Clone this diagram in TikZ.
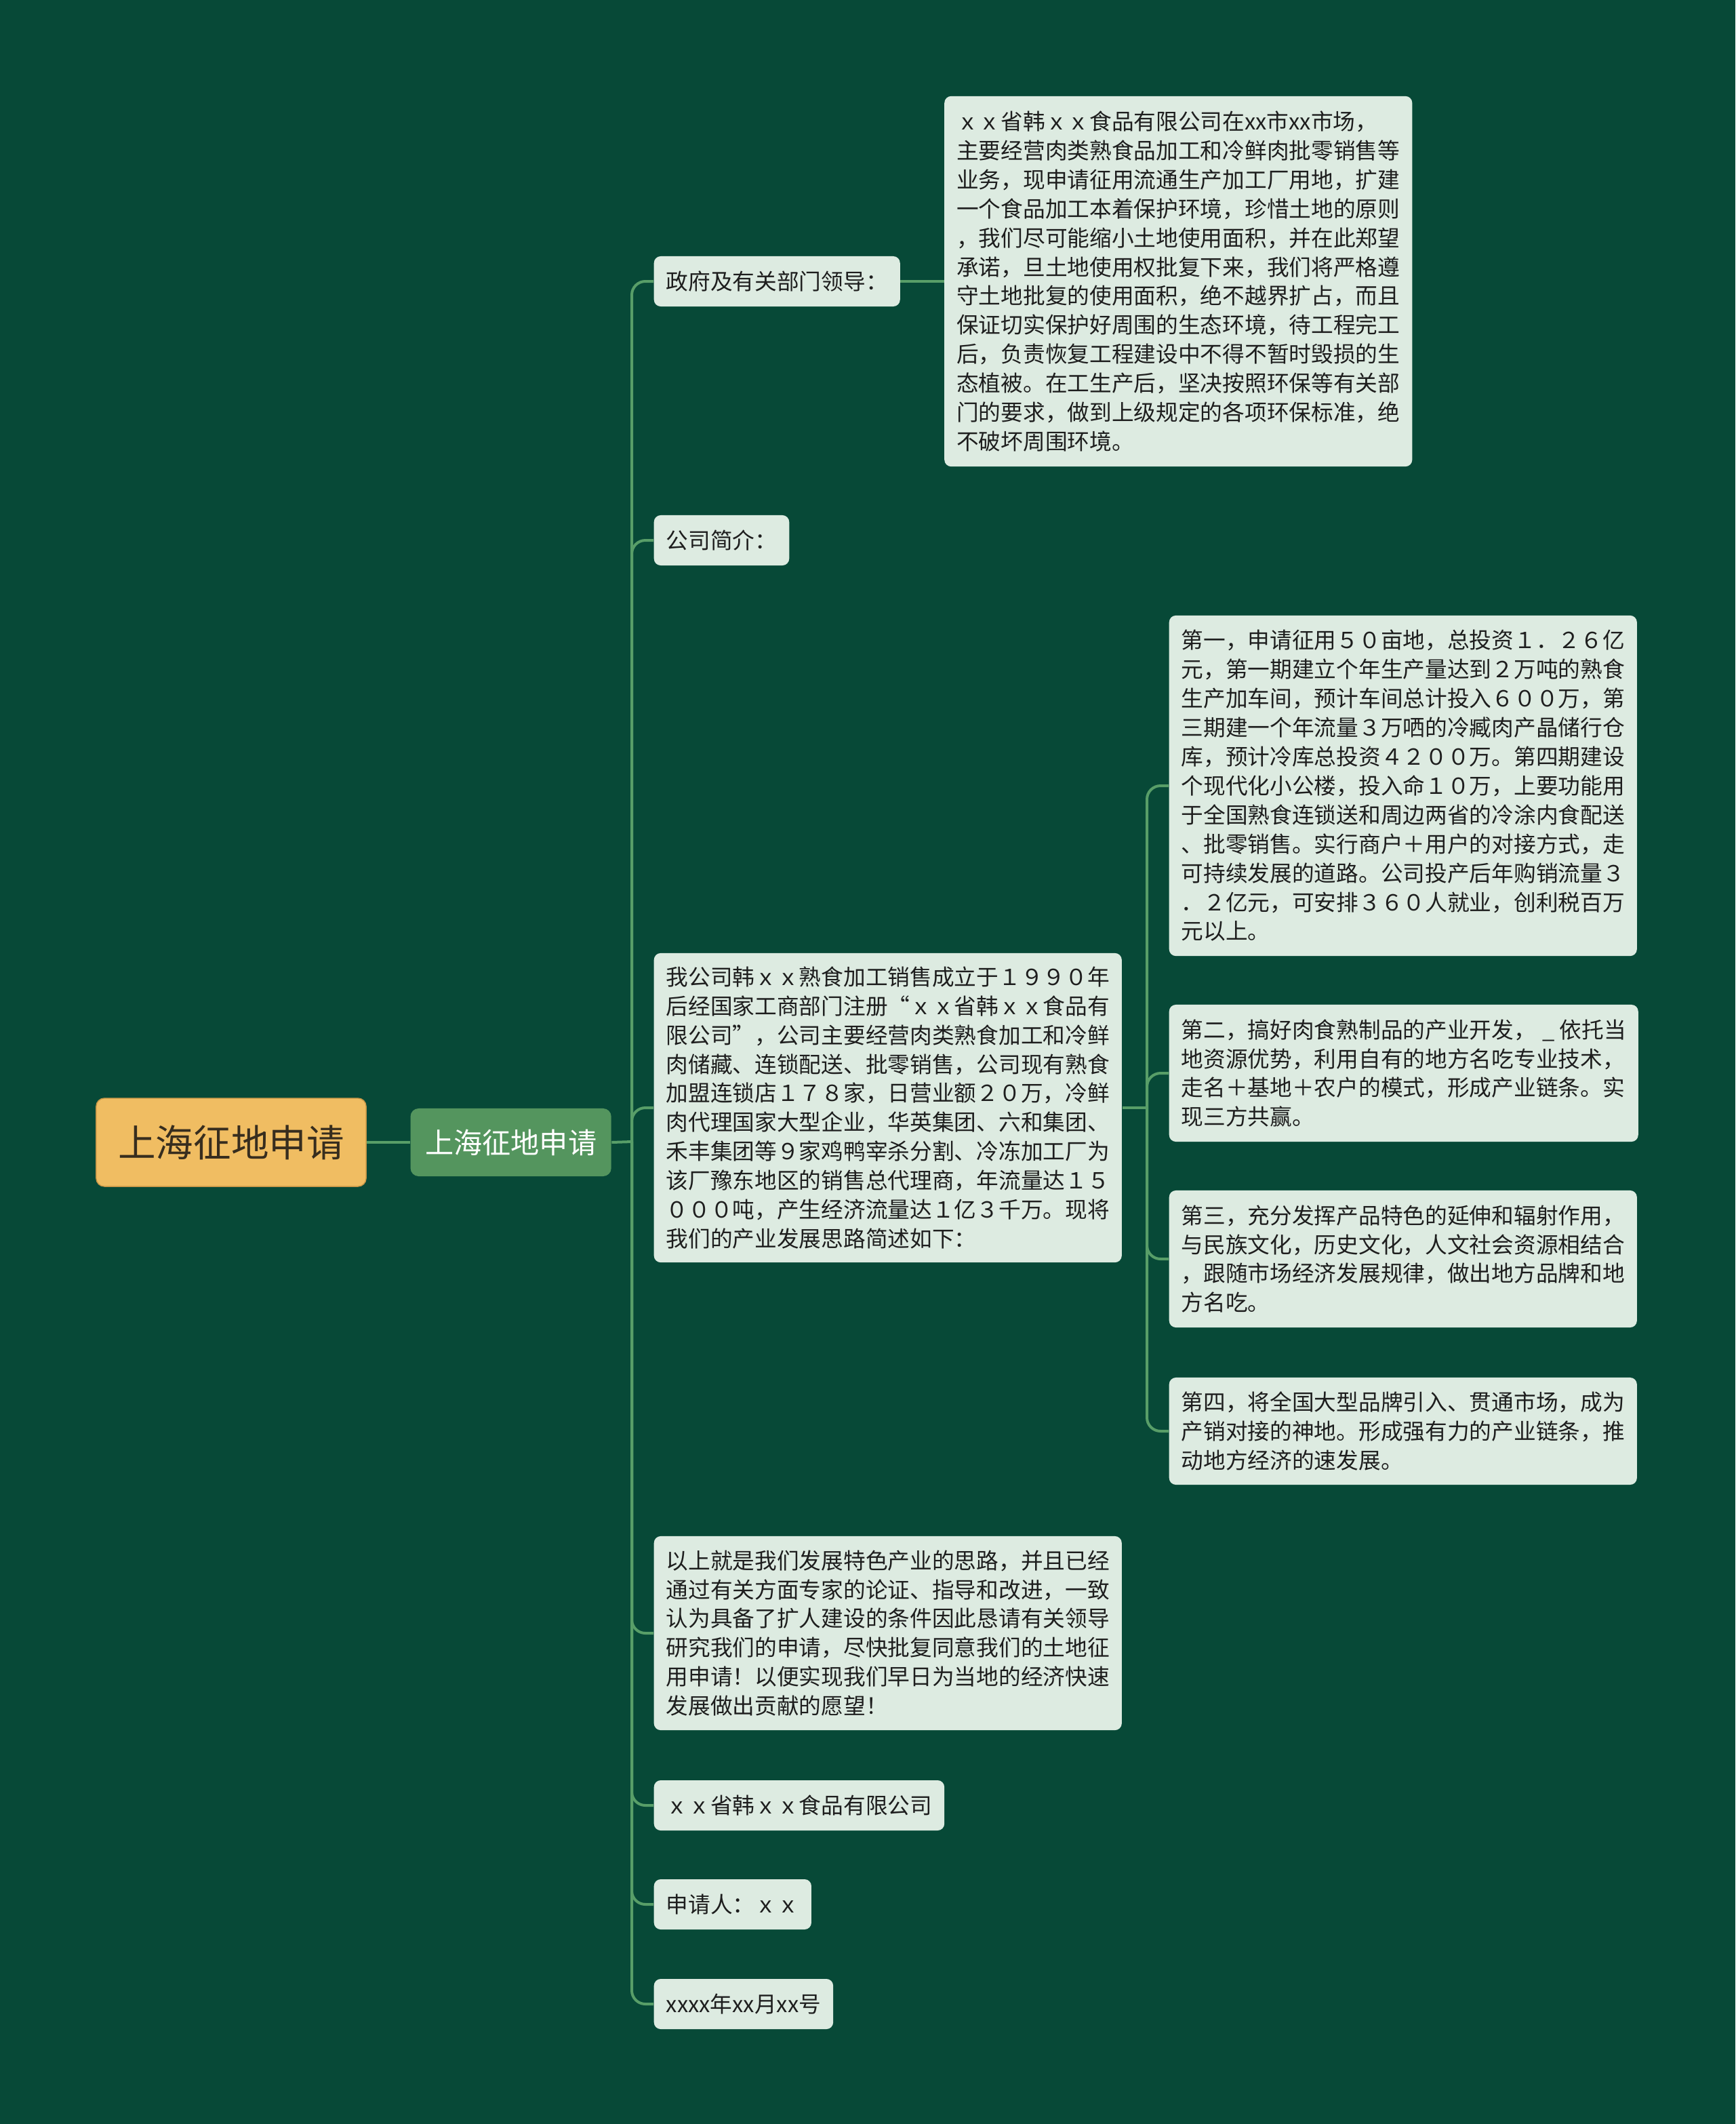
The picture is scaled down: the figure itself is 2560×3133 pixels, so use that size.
\documentclass[tikz,border=0pt]{standalone}
\usepackage{fontspec}
\setmainfont{Noto Sans CJK SC}
\usepackage{xcolor}
\usepackage{tikz}
\usetikzlibrary{positioning}

\definecolor{bgcol}{RGB}{7,73,55}
\definecolor{linecol}{RGB}{88,158,104}
\definecolor{boxcol}{RGB}{221,235,225}
\definecolor{txtcol}{RGB}{30,30,30}
\definecolor{rootcol}{RGB}{240,189,98}
\definecolor{rootline}{RGB}{200,150,70}
\definecolor{roottxt}{RGB}{55,45,30}
\definecolor{maincol}{RGB}{84,149,94}

\begin{document}
\begin{tikzpicture}[x=0.01cm, y=-0.01cm,
box/.style={rectangle, rounded corners=0.1cm, fill=boxcol, text=txtcol, inner xsep=0.18cm, inner ysep=0.1cm, minimum height=0.74cm, align=left, anchor=west, font=\fontsize{9.3}{12.2}\selectfont},
rootbox/.style={rectangle, rounded corners=0.12cm, fill=rootcol, draw=rootline, thin, text=roottxt, minimum width=3.98cm, minimum height=1.3cm, font=\fontsize{15.8}{18}\selectfont},
mainbox/.style={rectangle, rounded corners=0.12cm, fill=maincol, text=white, minimum width=2.96cm, minimum height=1.0cm, font=\fontsize{12}{14}\selectfont},
link/.style={draw=linecol, line width=0.04cm, rounded corners=0.2cm}
]
\useasboundingbox (0,0) rectangle (2560,3133);
\fill[bgcol] (0,0) rectangle (2560,3133);

\node[rootbox](root) at (341,1685){上海征地申请};
\node[mainbox](main)[right=0.64cm of root]{上海征地申请};

\node[box](gov) at (964,415){政府及有关部门领导：};
\node[box, minimum height=5.46cm](gov_txt)[right=0.64cm of gov]{ｘｘ省韩ｘｘ食品有限公司在xx市xx市场，\\主要经营肉类熟食品加工和冷鲜肉批零销售等\\业务，现申请征用流通生产加工厂用地，扩建\\一个食品加工本着保护环境，珍惜土地的原则\\，我们尽可能缩小土地使用面积，并在此郑望\\承诺，旦土地使用权批复下来，我们将严格遵\\守土地批复的使用面积，绝不越界扩占，而且\\保证切实保护好周围的生态环境，待工程完工\\后，负责恢复工程建设中不得不暂时毁损的生\\态植被。在工生产后，坚决按照环保等有关部\\门的要求，做到上级规定的各项环保标准，绝\\不破坏周围环境。};
\node[box](intro) at (964,797){公司简介：};
\node[box, minimum height=4.56cm](about) at (964,1634){我公司韩ｘｘ熟食加工销售成立于１９９０年\\后经国家工商部门注册“ｘｘ省韩ｘｘ食品有\\限公司”，公司主要经营肉类熟食加工和冷鲜\\肉储藏、连锁配送、批零销售，公司现有熟食\\加盟连锁店１７８家，日营业额２０万，冷鲜\\肉代理国家大型企业，华英集团、六和集团、\\禾丰集团等９家鸡鸭宰杀分割、冷冻加工厂为\\该厂豫东地区的销售总代理商，年流量达１５\\０００吨，产生经济流量达１亿３千万。现将\\我们的产业发展思路简述如下：};
\node[box, minimum height=5.02cm](first) at (1724,1159){第一，申请征用５０亩地，总投资１．２６亿\\元，第一期建立个年生产量达到２万吨的熟食\\生产加车间，预计车间总计投入６００万，第\\三期建一个年流量３万哂的冷臧肉产晶储行仓\\库，预计冷库总投资４２００万。第四期建设\\个现代化小公楼，投入命１０万，上要功能用\\于全国熟食连锁送和周边两省的冷涂内食配送\\、批零销售。实行商户＋用户的对接方式，走\\可持续发展的道路。公司投产后年购销流量３\\．２亿元，可安排３６０人就业，创利税百万\\元以上。};
\node[box, minimum height=2.02cm](second) at (1724,1583){第二，搞好肉食熟制品的产业开发，\hspace{0.3em}\_\hspace{0.2em}依托当\\地资源优势，利用自有的地方名吃专业技术，\\走名＋基地＋农户的模式，形成产业链条。实\\现三方共赢。};
\node[box, minimum height=2.02cm](third) at (1724,1857){第三，充分发挥产品特色的延伸和辐射作用，\\与民族文化，历史文化，人文社会资源相结合\\，跟随市场经济发展规律，做出地方品牌和地\\方名吃。};
\node[box, minimum height=1.58cm](fourth) at (1724,2111){第四，将全国大型品牌引入、贯通市场，成为\\产销对接的神地。形成强有力的产业链条，推\\动地方经济的速发展。};
\node[box, minimum height=2.86cm](summary) at (964,2409){以上就是我们发展特色产业的思路，并且已经\\通过有关方面专家的论证、指导和改进，一致\\认为具备了扩人建设的条件因此恳请有关领导\\研究我们的申请，尽快批复同意我们的土地征\\用申请！以便实现我们早日为当地的经济快速\\发展做出贡献的愿望！};
\node[box](company) at (964,2663){ｘｘ省韩ｘｘ食品有限公司};
\node[box](applicant) at (964,2809){申请人：ｘｘ};
\node[box](date) at (964,2956){xxxx年xx月xx号};

\coordinate (trunk) at (932,1684);
\coordinate (about_trunk) at (1692,1634);

\draw[link] (root) -- (main);
\draw[link] (main.east) -- (trunk);
\foreach \n in {gov,intro,about,summary,company,applicant,date}
  \draw[link] (trunk) |- (\n.west);
\draw[link] (gov) -- (gov_txt);
\draw[link] (about.east) -- (about_trunk);
\foreach \n in {first,second,third,fourth}
  \draw[link] (about_trunk) |- (\n.west);

\end{tikzpicture}
\end{document}
